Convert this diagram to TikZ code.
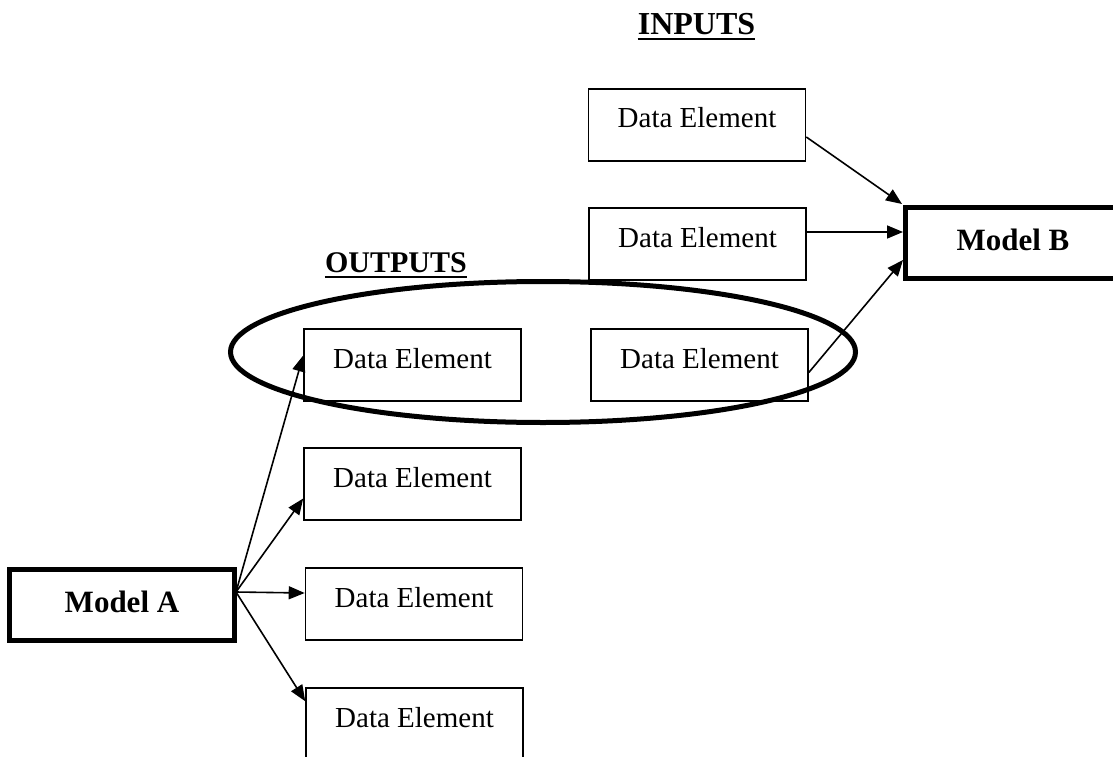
\documentclass[tikz,border=0pt]{standalone}
\usepackage{fontspec}
\setmainfont{Liberation Serif}
\usetikzlibrary{arrows.meta}

\begin{document}
\begin{tikzpicture}[x=1pt,y=-1pt,
  dataelem/.style={draw, line width=1.6pt, rectangle, inner xsep=0pt, inner ysep=0pt,
    minimum width=217pt, text height=39pt, text depth=33pt,
    font=\fontsize{29}{29}\selectfont, anchor=base},
  model/.style={draw, line width=5pt, rectangle, inner xsep=0pt, inner ysep=0pt,
    text height=42.5pt, text depth=28.5pt,
    font=\fontsize{31}{31}\selectfont\bfseries, anchor=base},
  heading/.style={inner sep=0pt, anchor=base, font=\bfseries},
  uline/.style={line width=2.5pt},
  link/.style={line width=1.6pt, -{Triangle[length=16pt,width=13pt]}},
  group/.style={line width=5pt}
]
\clip (0,0) rectangle (1113,757);

% headings
\node[heading, font=\fontsize{32}{32}\selectfont\bfseries] (inputs) at (696.5,35) {INPUTS};
\draw[uline] ([yshift=-4pt]inputs.base west) -- ([yshift=-4pt]inputs.base east);
\node[heading, font=\fontsize{30}{30}\selectfont\bfseries] (outputs) at (396,272) {OUTPUTS};
\draw[uline] ([yshift=-5pt]outputs.base west) -- ([yshift=-5pt]outputs.base east);

% models
\node[model, minimum width=225pt] (ma) at (122,612) {Model A};
\node[model, minimum width=215pt] (mb) at (1013,250) {Model B};

% input data elements
\node[dataelem] (in1) at (697,128) {Data Element};
\node[dataelem] (in2) at (697.5,247) {Data Element};
\node[dataelem] (in3) at (699.5,368) {Data Element};

% output data elements
\node[dataelem] (out1) at (412.5,368) {Data Element};
\node[dataelem] (out2) at (412.5,487) {Data Element};
\node[dataelem] (out3) at (414,607) {Data Element};
\node[dataelem, text depth=80pt] (out4) at (414.5,727) {Data Element};

% shared element ring
\draw[group] (543,352) ellipse [x radius=312.5, y radius=70.5];

% Model A to its outputs
\coordinate (aout) at (236,592);
\draw[link] (aout) -- ([yshift=9.5pt]out1.west);
\draw[link] (aout) -- ([yshift=-14.5pt]out2.west);
\draw[link] (aout) -- ([yshift=11pt]out3.west);
\draw[link] (aout) -- ([yshift=-14pt]out4.north west);

% inputs to Model B
\draw[link] ([yshift=-12pt]in1.east) -- ([xshift=-1pt,yshift=1pt]mb.north west);
\draw[link] ([yshift=12pt]in2.east) -- ([yshift=12pt]in2.east -| mb.west);
\draw[link] ([yshift=-7.5pt]in3.east) -- ([yshift=-17pt]mb.west);
\end{tikzpicture}
\end{document}
